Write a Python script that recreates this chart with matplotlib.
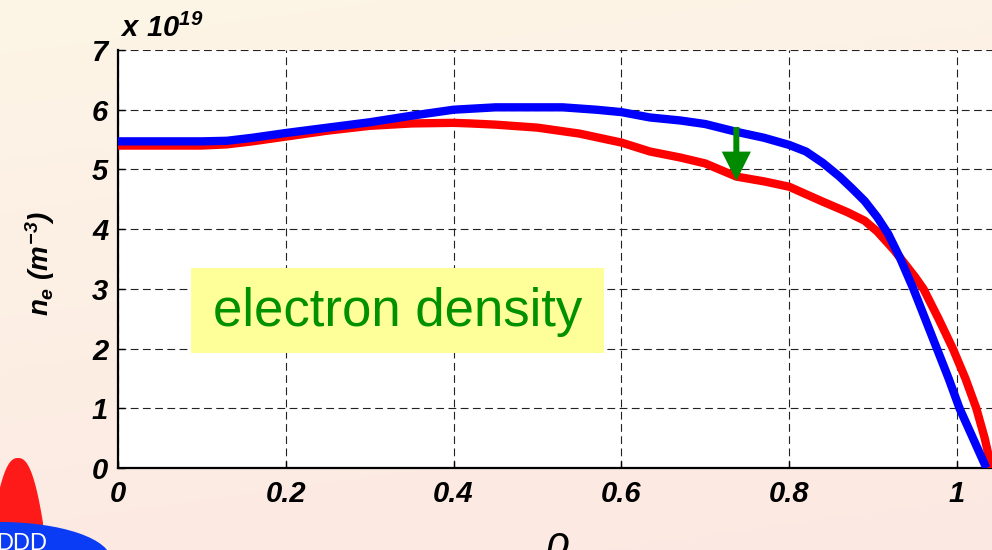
import matplotlib
matplotlib.use("Agg")
import matplotlib.pyplot as plt
import numpy as np
from matplotlib.patches import Ellipse, Polygon, Rectangle

# electron density profiles, units of 1e19 m^-3
rho_before = [0, 0.05, 0.10, 0.13, 0.16, 0.20, 0.25, 0.30, 0.35, 0.40, 0.45, 0.50,
              0.53, 0.57, 0.60, 0.634, 0.67, 0.70, 0.737, 0.77, 0.80, 0.82, 0.84,
              0.86, 0.875, 0.89, 0.905, 0.918, 0.932, 0.948, 0.962, 0.976, 0.99,
              1.003, 1.019, 1.035]
ne_before = [5.47, 5.47, 5.47, 5.48, 5.53, 5.61, 5.70, 5.79, 5.90, 6.00, 6.04, 6.04,
             6.04, 6.00, 5.96, 5.87, 5.82, 5.76, 5.63, 5.53, 5.41, 5.30, 5.11,
             4.88, 4.68, 4.47, 4.20, 3.92, 3.52, 3.00, 2.50, 2.00, 1.50,
             1.00, 0.50, 0.0]

rho_after = [0, 0.05, 0.10, 0.13, 0.16, 0.20, 0.25, 0.30, 0.35, 0.40, 0.42, 0.45,
             0.50, 0.55, 0.60, 0.634, 0.67, 0.70, 0.737, 0.77, 0.80, 0.84, 0.87,
             0.89, 0.905, 0.925, 0.94, 0.95, 0.960, 0.978, 0.995, 1.01, 1.023, 1.033,
             1.041]
ne_after = [5.40, 5.40, 5.40, 5.42, 5.47, 5.55, 5.65, 5.73, 5.77, 5.78, 5.77, 5.75,
            5.70, 5.60, 5.45, 5.30, 5.20, 5.10, 4.88, 4.80, 4.71, 4.46, 4.28,
            4.14, 3.96, 3.65, 3.38, 3.20, 3.00, 2.50, 2.00, 1.50, 1.00, 0.50,
            0.0]

x_ticks = [0, 0.2, 0.4, 0.6, 0.8, 1.0]
x_labels = ["0", "0.2", "0.4", "0.6", "0.8", "1"]
y_ticks = [0, 1, 2, 3, 4, 5, 6, 7]

# drop marker between the two profiles
arrow_rho = 0.737
arrow_from = 5.71
arrow_to = 4.81

plt.rcParams["mathtext.fontset"] = "custom"
plt.rcParams["mathtext.rm"] = "Liberation Sans:bold:italic"
plt.rcParams["mathtext.it"] = "Liberation Sans:bold:italic"
plt.rcParams["mathtext.bf"] = "Liberation Sans:bold:italic"

W, H = 992, 550
fig = plt.figure(figsize=(W / 100, H / 100), dpi=100)

# slide background gradient
bg = fig.add_axes([0, 0, 1, 1], zorder=-10)
yy, xx = np.mgrid[0:1:200j, 0:1:200j]
t = np.clip(0.8 * yy + 0.2 * xx, 0, 1)[..., None]
top = np.array([252, 245, 230]) / 255
bot = np.array([253, 232, 226]) / 255
bg.imshow(top * (1 - t) + bot * t, aspect="auto", extent=[0, 1, 0, 1], origin="upper")
bg.set_xlim(0, 1)
bg.set_ylim(0, 1)
bg.axis("off")

# logo fragment in the lower-left corner
bx = np.linspace(0, 43, 80)
by = np.minimum(458 + 65 * (np.abs(bx - 18) / 25) ** 2.4, 526)
pts = [(x / W, 1 - y / H) for x, y in zip(bx, by)] + [(43 / W, 1 - 526 / H), (0, 1 - 526 / H)]
bg.add_patch(Polygon(pts, closed=True, facecolor="#ff1a1a", edgecolor="none"))
bg.add_patch(Ellipse((0, 1 - 560 / H), 222 / W, 76 / H, facecolor="#0a3cf5", edgecolor="none"))
bg.text(-4 / W, 1 - 544 / H, "DDD", color="white", fontsize=17,
        family="Liberation Sans", ha="left", va="center")

# main axes (right part runs off the figure edge)
left, right_px = 118, 118 + 839 * 1.1
ax = fig.add_axes([left / W, (H - 468) / H, (right_px - left) / W, (468 - 50) / H])
ax.set_facecolor("white")

ax.plot(rho_after, ne_after, color="#ff0000", lw=6, solid_capstyle="butt", zorder=3)
ax.plot(rho_before, ne_before, color="#0000ff", lw=6, solid_capstyle="butt", zorder=4)

ax.annotate("", xy=(arrow_rho, arrow_to), xytext=(arrow_rho, arrow_from),
            arrowprops=dict(facecolor="#008a00", edgecolor="none", width=4.3,
                            headwidth=21, headlength=21, shrink=0), zorder=5)

ax.add_patch(Rectangle((0.087, 1.93), 0.492, 1.42, facecolor="#ffff99",
                       edgecolor="none", zorder=6))
ax.text(0.333, 2.62, "electron density", color="#009000", fontsize=38,
        family="Liberation Sans", ha="center", va="center", zorder=7)

ax.set_xlim(0, 1.1)
ax.set_ylim(0, 7)
ax.set_xticks(x_ticks)
ax.set_xticklabels(x_labels)
ax.set_yticks(y_ticks)
ax.grid(True, color="#222222", linestyle=(0, (7, 4)), lw=0.8)
ax.set_axisbelow(True)
for s in ["top", "right"]:
    ax.spines[s].set_visible(False)
for s in ["left", "bottom"]:
    ax.spines[s].set_linewidth(1.6)
ax.tick_params(direction="in", length=5, width=1)
ax.tick_params(axis="x", pad=9)
ax.tick_params(axis="y", pad=7)
for lab in ax.get_xticklabels() + ax.get_yticklabels():
    lab.set_family("Liberation Sans")
    lab.set_fontweight("bold")
    lab.set_fontstyle("italic")
    lab.set_fontsize(21)

fig.text(120 / W, 1 - 28 / H, r"$x\ 10^{19}$", fontsize=21, ha="left", va="center")
fig.text(40 / W, 1 - 263 / H, r"$n_e\ (m^{-3})$", fontsize=20, rotation=90,
         ha="center", va="center")
fig.text(557 / W, 1 - 545 / H, "ρ", fontsize=30, family="Liberation Sans",
         style="italic", ha="center", va="center")

fig.savefig("out.png", dpi=100)
